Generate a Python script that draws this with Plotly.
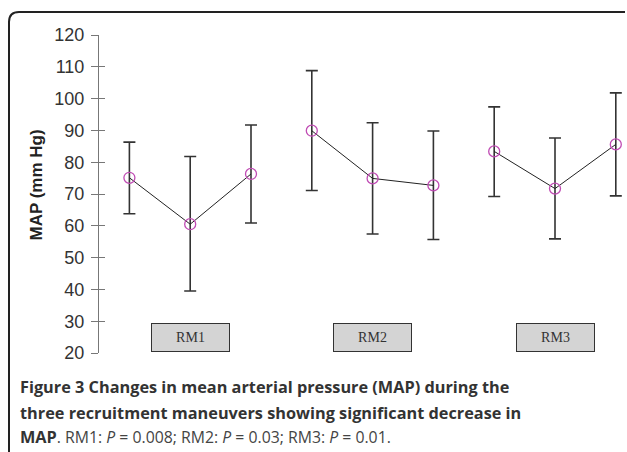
import plotly.graph_objects as go

# Data
groups = ["RM1", "RM2", "RM3"]
positions = [[0, 1, 2], [3, 4, 5], [6, 7, 8]]
means = [[75.1, 60.5, 76.3], [89.9, 74.9, 72.7], [83.4, 71.7, 85.6]]
upper = [[86.3, 81.8, 91.7], [108.8, 92.4, 89.8], [97.4, 87.6, 101.8]]
lower = [[63.8, 39.5, 60.9], [71.1, 57.4, 55.7], [69.2, 55.9, 69.4]]
label_pos = [1, 4, 7]
label_y = 25
y_ticks = [20, 30, 40, 50, 60, 70, 80, 90, 100, 110, 120]

W, H = 627, 452
ML, MR, MT, MB = 99, 0, 35, 99
PW, PH = W - ML - MR, H - MT - MB
px_per_unit = 60.8

def px(x):
    return (x - ML) / PW

def py(y):
    return (H - MB - y) / PH

fig = go.Figure()
for g in range(3):
    m = means[g]
    fig.add_trace(go.Scatter(
        x=positions[g], y=m, mode="lines+markers",
        line=dict(color="#222222", width=1),
        marker=dict(symbol="circle-open", size=11, color="#C04CB4", line=dict(width=1.3)),
        error_y=dict(type="data", symmetric=False,
                     array=[u - v for u, v in zip(upper[g], m)],
                     arrayminus=[v - l for v, l in zip(m, lower[g])],
                     color="#333333", thickness=1.6, width=6),
        showlegend=False, hoverinfo="skip", cliponaxis=False,
    ))

# invisible trace for overlay axis
fig.add_trace(go.Scatter(x=[0], y=[50], yaxis="y2", mode="markers",
                         marker=dict(opacity=0), showlegend=False, hoverinfo="skip"))

fig.update_layout(
    width=W, height=H,
    margin=dict(l=ML, r=MR, t=MT, b=MB),
    paper_bgcolor="white", plot_bgcolor="white",
    xaxis=dict(range=[-0.5, -0.5 + PW / px_per_unit], showline=False, showgrid=False,
               zeroline=False, showticklabels=False, ticks=""),
    yaxis=dict(range=[20, 120], tickvals=y_ticks, showline=True, linecolor="#777777",
               linewidth=1, ticks="outside", ticklen=7, tickcolor="#777777",
               showgrid=False, zeroline=False, ticklabelstandoff=3,
               tickfont=dict(family="Liberation Sans, Arial", size=18, color="#333333")),
    yaxis2=dict(range=[20, 120], tickvals=y_ticks, overlaying="y", side="left",
                showline=False, ticks="inside", ticklen=6, tickcolor="#777777",
                showticklabels=False, showgrid=False, zeroline=False),
)

annotations = []
for lab, xp in zip(groups, label_pos):
    annotations.append(dict(x=xp, y=label_y, xref="x", yref="y", text=lab, showarrow=False,
                            width=75, height=25, bgcolor="#D4D4D4", bordercolor="#333333",
                            borderwidth=1, borderpad=1,
                            font=dict(family="Liberation Serif, Times New Roman", size=14,
                                      color="#333333")))

annotations.append(dict(x=px(35.5), y=py(185), xref="paper", yref="paper", text="<b>MAP (mm Hg)</b>",
                        textangle=-90, showarrow=False, xanchor="center", yanchor="middle",
                        font=dict(family="Liberation Sans, Arial", size=17, color="#222222")))

cap_font = dict(family="Open Sans", size=16.3, color="#333333")
reg = '<span style="font-size:15.8px;color:#444444">'
caption_lines = [
    "<b>Figure 3 Changes in mean arterial pressure (MAP) during the</b>",
    "<b>three recruitment maneuvers showing significant decrease in</b>",
    "<b>MAP</b>" + reg + ". RM1: <i>P</i> = 0.008; RM2: <i>P</i> = 0.03; RM3: <i>P</i> = 0.01.</span>",
]
for txt, yc in zip(caption_lines, [387, 412.5, 437]):
    annotations.append(dict(x=px(18), y=py(yc), xref="paper", yref="paper", text=txt,
                            showarrow=False, xanchor="left", yanchor="middle", font=cap_font))
fig.update_layout(annotations=annotations)

# rounded frame (decoration)
lx, ty, rx, by = px(9), py(12), px(625), py(470)
rxp, ryp = 10 / PW, 10 / PH
path = (f"M {lx},{by} L {lx},{ty - ryp} Q {lx},{ty} {lx + rxp},{ty} L {rx},{ty}")
fig.add_shape(type="path", path=path, xref="paper", yref="paper",
              line=dict(color="#222222", width=2))

fig.write_html("out.html", config={"displayModeBar": False},
               post_script="document.body.style.margin='0';document.body.style.overflow='hidden';")
